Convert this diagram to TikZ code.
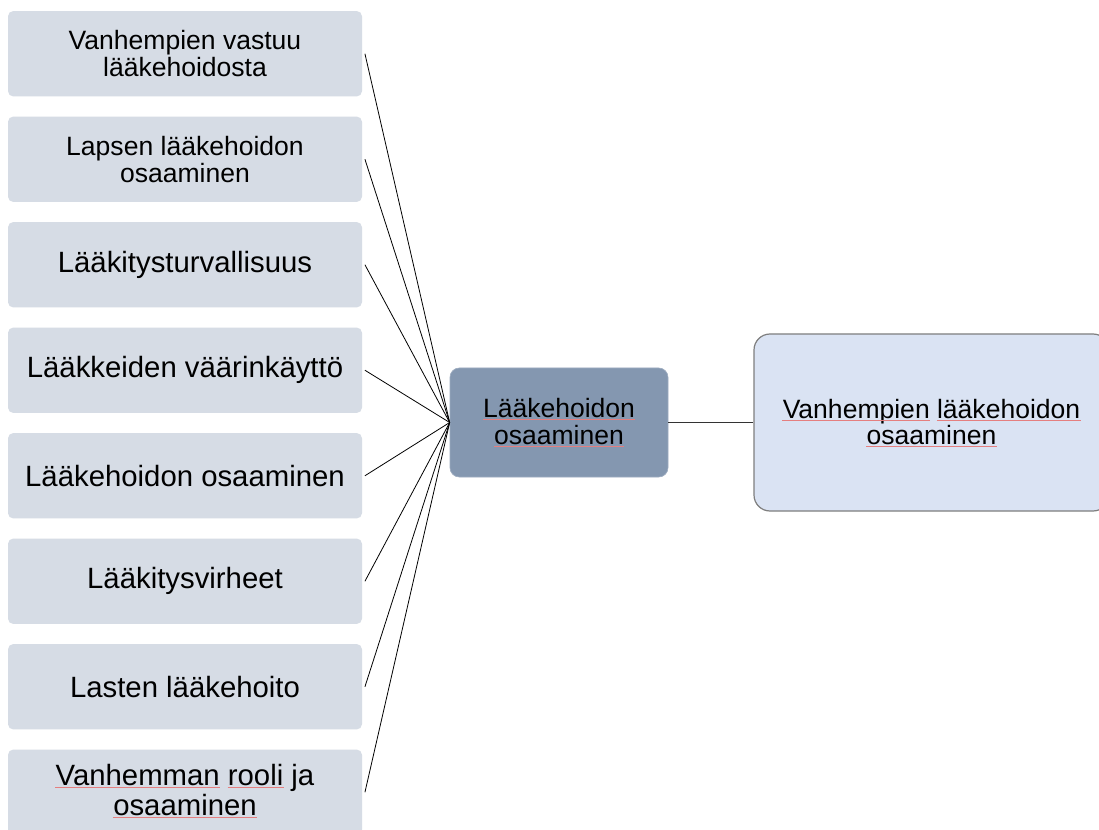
\documentclass[tikz,border=0pt]{standalone}
\usepackage{fontspec}
\setmainfont{Liberation Sans}
\definecolor{leftfill}{HTML}{D6DCE5}
\definecolor{midfill}{HTML}{8497B0}
\definecolor{rightfill}{HTML}{DAE3F3}
\definecolor{rightedge}{HTML}{7F7F7F}
\definecolor{splred}{HTML}{E57F7F}
\newcommand\smalltxt{\fontsize{19.9pt}{20.25pt}\selectfont}
\newcommand\bigtxt{\fontsize{22pt}{22.5pt}\selectfont}
% proofing underline below a word node
\newcommand\markunder[1]{%
  \draw[spellmark] ([yshift=-2.2pt]#1.base west) -- ([yshift=-2.2pt]#1.base east);}
\tikzset{
  leftbox/.style={fill=leftfill, draw=none, rounded corners=4pt,
    minimum width=265.5pt, minimum height=64.1pt, inner sep=0pt, align=center},
  midbox/.style={fill=midfill, draw=midfill!80!white, line width=0.5pt, rounded corners=7pt,
    minimum width=163.5pt, minimum height=81.75pt, inner sep=0pt},
  rightbox/.style={fill=rightfill, draw=rightedge, line width=0.9pt, rounded corners=12pt,
    minimum width=266.25pt, minimum height=132.75pt, inner sep=0pt},
  textline/.style={anchor=base, inner sep=0pt},
  smallfont/.style={font=\smalltxt},
  bigfont/.style={font=\bigtxt},
  link/.style={draw=black, line width=0.6pt},
  spellmark/.style={draw=splred, line width=0.8pt},
}
\begin{document}
\begin{tikzpicture}[x=0.75pt, y=-0.75pt]
\useasboundingbox[fill=white] (0,0) rectangle (1099,830);
\begin{scope}
\clip (0,0) rectangle (1099,830);
% topic boxes on the left
\node[leftbox, smallfont] (b1) at (185,53.75)  {Vanhempien vastuu\\lääkehoidosta};
\node[leftbox, smallfont] (b2) at (185,159.25) {Lapsen lääkehoidon\\osaaminen};
\node[leftbox, bigfont] (b3) at (185,264.75) {Lääkitysturvallisuus};
\node[leftbox, bigfont] (b4) at (185,370.25) {Lääkkeiden väärinkäyttö};
\node[leftbox, bigfont] (b5) at (185,475.75) {Lääkehoidon osaaminen};
\node[leftbox, bigfont] (b6) at (185,581.25) {Lääkitysvirheet};
\node[leftbox, bigfont] (b7) at (185,686.75) {Lasten lääkehoito};
\node[leftbox] (b8) at (185,792.25) {};
\node[textline, bigfont] (b8a) at (185,785) {Vanhemman rooli ja};
\node[textline, bigfont] (b8b) at (185,815) {osaaminen};

% middle and right boxes
\node[midbox] (mid) at (559,422.5) {};
\node[textline, smallfont] (mida) at (559,417) {Lääkehoidon};
\node[textline, smallfont] (midb) at (559,444) {osaaminen};
\node[rightbox] (top) at (931.5,422.5) {};
\node[textline, smallfont] (topa) at (931.5,418) {Vanhempien lääkehoidon};
\node[textline, smallfont] (topb) at (931.5,444) {osaaminen};

% word spans for the proofing marks
\node[textline, smallfont, anchor=base west] (topw1) at (topa.base west) {\phantom{Vanhempien}};
\node[textline, smallfont, anchor=base east] (topw2) at (topa.base east) {\phantom{lääkehoidon}};
\node[textline, bigfont, anchor=base west] (b8w1) at (b8a.base west) {\phantom{Vanhemman}};
\node[textline, bigfont, anchor=base west] (b8w12) at (b8a.base west) {\phantom{Vanhemman rooli}};
\node[textline, bigfont, anchor=base east] (b8w2) at (b8w12.base east) {\phantom{rooli}};

% proofing marks
\markunder{mida}
\markunder{midb}
\markunder{topw1}
\markunder{topw2}
\markunder{topb}
\markunder{b8w1}
\markunder{b8w2}
\markunder{b8b}

% connectors
\foreach \b in {b1,b2,b3,b4,b5,b6,b7,b8}
  \draw[link] ([xshift=2pt]\b.east) -- (mid.west);
\draw[link, draw=black!80] (mid.east) -- (top.west);
\end{scope}
\end{tikzpicture}
\end{document}
